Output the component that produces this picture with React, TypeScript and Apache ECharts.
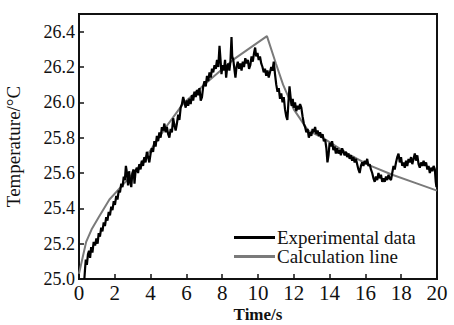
import React, { useEffect, useRef } from "react";
import * as echarts from "echarts";

const xTicks = [0, 2, 4, 6, 8, 10, 12, 14, 16, 18, 20];
const yTicks = [25.0, 25.2, 25.4, 25.6, 25.8, 26.0, 26.2, 26.4];

const seriesNames = ["Experimental data", "Calculation line"];

const calculation: [number, number][] = [
  [0.0, 25.03], [0.2, 25.12], [0.4, 25.21], [0.7, 25.28], [1.1, 25.35],
  [1.7, 25.45], [2.6, 25.55], [3.3, 25.63], [4.0, 25.73], [5.0, 25.88],
  [5.8, 25.99], [7.1, 26.11], [8.6, 26.24], [10.5, 26.375], [11.0, 26.22],
  [11.4, 26.1], [12.0, 25.96], [12.8, 25.84], [13.6, 25.8], [15.0, 25.71],
  [16.2, 25.645], [17.5, 25.59], [18.9, 25.54], [20.0, 25.5],
];

const experimental: [number, number][] = [
  [0.30, 25.00], [0.34, 25.06], [0.38, 25.11], [0.44, 25.08], [0.50, 25.14], [0.56, 25.16],
  [0.62, 25.12], [0.68, 25.18], [0.75, 25.15], [0.82, 25.21], [0.90, 25.19], [0.97, 25.23],
  [1.04, 25.20], [1.10, 25.26], [1.17, 25.24], [1.24, 25.29], [1.31, 25.27], [1.38, 25.32],
  [1.45, 25.30], [1.52, 25.35], [1.59, 25.33], [1.66, 25.38], [1.73, 25.36], [1.80, 25.41],
  [1.87, 25.39], [1.94, 25.44], [2.01, 25.42], [2.08, 25.47], [2.15, 25.45], [2.22, 25.50],
  [2.29, 25.49], [2.36, 25.54], [2.43, 25.52], [2.50, 25.58], [2.56, 25.56], [2.62, 25.64],
  [2.68, 25.60], [2.74, 25.53], [2.80, 25.61], [2.86, 25.55], [2.92, 25.52], [2.98, 25.60],
  [3.05, 25.62], [3.10, 25.54], [3.16, 25.61], [3.23, 25.63], [3.30, 25.60], [3.37, 25.65],
  [3.44, 25.62], [3.51, 25.67], [3.58, 25.64], [3.65, 25.69], [3.72, 25.66], [3.79, 25.72],
  [3.86, 25.69], [3.93, 25.66], [4.00, 25.71], [4.07, 25.74], [4.14, 25.72], [4.21, 25.78],
  [4.28, 25.75], [4.35, 25.81], [4.42, 25.78], [4.49, 25.83], [4.56, 25.80], [4.63, 25.86],
  [4.70, 25.84], [4.77, 25.88], [4.84, 25.83], [4.91, 25.86], [4.98, 25.82], [5.05, 25.80],
  [5.12, 25.85], [5.19, 25.83], [5.26, 25.91], [5.33, 25.87], [5.40, 25.84], [5.47, 25.88],
  [5.54, 25.93], [5.61, 25.90], [5.68, 25.97], [5.75, 25.99], [5.82, 26.03], [5.89, 26.00],
  [5.96, 25.97], [6.03, 26.01], [6.10, 25.98], [6.17, 26.02], [6.24, 25.99], [6.31, 26.04],
  [6.38, 26.01], [6.45, 26.06], [6.52, 26.03], [6.59, 26.07], [6.66, 26.04], [6.73, 26.08],
  [6.80, 26.01], [6.87, 26.03], [6.94, 26.09], [7.01, 26.12], [7.08, 26.09], [7.15, 26.15],
  [7.22, 26.12], [7.29, 26.17], [7.36, 26.14], [7.43, 26.19], [7.50, 26.17], [7.57, 26.21],
  [7.64, 26.19], [7.71, 26.24], [7.78, 26.20], [7.85, 26.32], [7.90, 26.25], [7.96, 26.16],
  [8.02, 26.21], [8.09, 26.18], [8.16, 26.24], [8.22, 26.14], [8.28, 26.20], [8.34, 26.22],
  [8.40, 26.18], [8.46, 26.23], [8.52, 26.37], [8.56, 26.26], [8.62, 26.24], [8.68, 26.19],
  [8.74, 26.14], [8.80, 26.20], [8.87, 26.23], [8.94, 26.19], [9.01, 26.22], [9.08, 26.18],
  [9.15, 26.23], [9.22, 26.20], [9.29, 26.25], [9.36, 26.22], [9.43, 26.24], [9.50, 26.19],
  [9.57, 26.21], [9.64, 26.26], [9.71, 26.23], [9.78, 26.28], [9.84, 26.31], [9.90, 26.26],
  [9.97, 26.28], [10.04, 26.24], [10.11, 26.26], [10.18, 26.22], [10.25, 26.20], [10.32, 26.17],
  [10.39, 26.19], [10.46, 26.15], [10.53, 26.18], [10.60, 26.14], [10.67, 26.17], [10.74, 26.20],
  [10.81, 26.18], [10.88, 26.23], [10.95, 26.16], [11.02, 26.10], [11.09, 26.06], [11.16, 26.08],
  [11.23, 26.02], [11.30, 26.05], [11.37, 26.00], [11.44, 26.03], [11.51, 25.96], [11.58, 25.92],
  [11.64, 25.90], [11.70, 26.00], [11.76, 26.09], [11.82, 26.03], [11.88, 25.98], [11.94, 26.02],
  [12.00, 25.97], [12.07, 26.00], [12.14, 25.95], [12.21, 25.98], [12.28, 25.96], [12.35, 25.99],
  [12.42, 25.97], [12.49, 25.92], [12.56, 25.88], [12.63, 25.86], [12.70, 25.83], [12.77, 25.85],
  [12.84, 25.80], [12.91, 25.83], [12.98, 25.81], [13.05, 25.85], [13.12, 25.83], [13.19, 25.86],
  [13.26, 25.82], [13.33, 25.84], [13.40, 25.81], [13.47, 25.83], [13.54, 25.80], [13.61, 25.82],
  [13.68, 25.78], [13.75, 25.79], [13.82, 25.74], [13.88, 25.66], [13.94, 25.70], [14.00, 25.77],
  [14.07, 25.75], [14.14, 25.78], [14.21, 25.73], [14.28, 25.75], [14.35, 25.71], [14.42, 25.74],
  [14.49, 25.71], [14.56, 25.73], [14.63, 25.70], [14.70, 25.74], [14.77, 25.72], [14.84, 25.70],
  [14.91, 25.72], [14.98, 25.69], [15.05, 25.71], [15.12, 25.68], [15.19, 25.70], [15.26, 25.67],
  [15.33, 25.69], [15.40, 25.66], [15.47, 25.68], [15.54, 25.65], [15.61, 25.62], [15.68, 25.60],
  [15.75, 25.64], [15.82, 25.66], [15.89, 25.64], [15.96, 25.67], [16.03, 25.65], [16.10, 25.68],
  [16.17, 25.64], [16.24, 25.65], [16.31, 25.62], [16.38, 25.60], [16.45, 25.57], [16.52, 25.55],
  [16.59, 25.58], [16.66, 25.56], [16.73, 25.60], [16.80, 25.57], [16.87, 25.59], [16.94, 25.55],
  [17.01, 25.57], [17.08, 25.55], [17.15, 25.58], [17.22, 25.56], [17.29, 25.59], [17.36, 25.57],
  [17.43, 25.56], [17.50, 25.60], [17.57, 25.64], [17.64, 25.62], [17.71, 25.66], [17.78, 25.69],
  [17.85, 25.71], [17.92, 25.66], [17.99, 25.69], [18.06, 25.64], [18.13, 25.66], [18.20, 25.63],
  [18.27, 25.67], [18.34, 25.64], [18.41, 25.68], [18.48, 25.66], [18.55, 25.69], [18.62, 25.65],
  [18.69, 25.68], [18.76, 25.71], [18.83, 25.67], [18.90, 25.70], [18.97, 25.65], [19.04, 25.63],
  [19.11, 25.66], [19.18, 25.64], [19.25, 25.67], [19.32, 25.64], [19.39, 25.66], [19.46, 25.62],
  [19.53, 25.64], [19.60, 25.60], [19.67, 25.63], [19.74, 25.61], [19.81, 25.64], [19.88, 25.62],
  [19.93, 25.55], [19.97, 25.52],
];

const FONT = "Liberation Serif";

export default function App() {
  const ref = useRef<HTMLDivElement>(null);
  useEffect(() => {
    if (!ref.current) return;
    const chart = echarts.init(ref.current, undefined, { renderer: "svg" });
    chart.setOption({
      animation: false,
      backgroundColor: "#ffffff",
      grid: {
        left: 79,
        top: 14,
        right: 17,
        bottom: 46,
        containLabel: false,
        outerBoundsMode: "none",
        show: true,
        borderColor: "#111",
        borderWidth: 2,
      },
      legend: {
        orient: "vertical",
        left: 229,
        top: 223,
        itemWidth: 41,
        itemHeight: 3,
        itemGap: 0,
        icon: "rect",
        data: seriesNames,
        textStyle: {
          fontFamily: FONT, fontSize: 19, color: "#111",
          padding: [0, 0, 0, -3], lineHeight: 19,
        },
      },
      xAxis: {
        type: "value",
        min: xTicks[0],
        max: xTicks[xTicks.length - 1],
        interval: 2,
        name: "Time/s",
        nameLocation: "middle",
        nameGap: 27,
        nameMoveOverlap: false,
        nameTextStyle: {
          fontFamily: FONT, fontSize: 17, fontWeight: "bold", color: "#111", verticalAlign: "top",
        },
        axisLine: { show: true, lineStyle: { color: "#111", width: 2 } },
        axisTick: { show: true, inside: true, length: 5, lineStyle: { color: "#111", width: 1.5 } },
        axisLabel: {
          fontFamily: FONT, fontSize: 21, color: "#111", margin: 3,
          formatter: (v: number) => String(v),
        },
        splitLine: { show: false },
      },
      yAxis: {
        type: "value",
        min: yTicks[0],
        max: 26.5,
        interval: 0.2,
        name: "Temperature/°C",
        nameLocation: "middle",
        nameGap: 56,
        nameMoveOverlap: false,
        nameTextStyle: { fontFamily: FONT, fontSize: 19, color: "#111" },
        axisLine: { show: true, lineStyle: { color: "#111", width: 2 } },
        axisTick: { show: true, inside: true, length: 5, lineStyle: { color: "#111", width: 1.5 } },
        axisLabel: {
          fontFamily: FONT, fontSize: 18, color: "#111", margin: 4,
          showMaxLabel: false,
          formatter: (v: number) => (yTicks.some((t) => Math.abs(t - v) < 1e-6) ? v.toFixed(1) : ""),
        },
        splitLine: { show: false },
      },
      series: [
        {
          name: seriesNames[0],
          type: "line",
          data: experimental,
          symbol: "none",
          lineStyle: { color: "#000", width: 2.2 },
          itemStyle: { color: "#000" },
          z: 3,
        },
        {
          name: seriesNames[1],
          type: "line",
          data: calculation,
          symbol: "none",
          lineStyle: { color: "#7a7a7a", width: 2 },
          itemStyle: { color: "#7a7a7a" },
          z: 2,
        },
      ],
    });
    return () => chart.dispose();
  }, []);
  return (
    <div
      ref={ref}
      style={{ position: "fixed", left: 0, top: 0, width: 454, height: 325, background: "#fff" }}
    />
  );
}
